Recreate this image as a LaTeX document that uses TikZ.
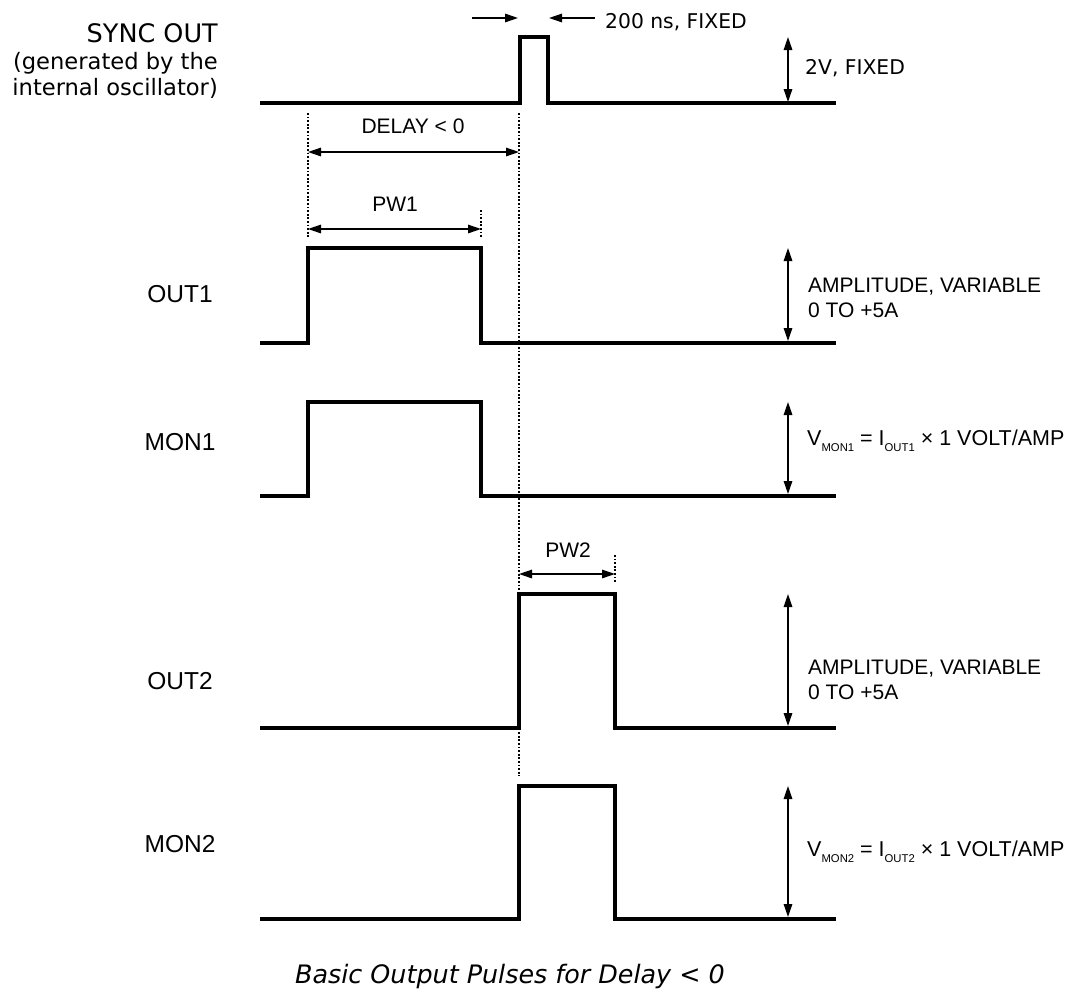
\documentclass[tikz,border=0pt]{standalone}
\usepackage{fontspec}
\setmainfont{Liberation Sans}
\newfontfamily\dvfont{DejaVu Sans}
\usetikzlibrary{arrows.meta}
\newcommand\lowsub[1]{\raisebox{-6pt}{\fontsize{11.3}{11.3}\selectfont #1}}
\begin{document}
\begin{tikzpicture}[x=1pt,y=-1pt,
  trace/.style={line width=4pt,line join=miter},
  dimarrow/.style={line width=1.4pt,{Triangle[length=13pt,width=8.5pt]}-{Triangle[length=13pt,width=8.5pt]}},
  onearrow/.style={line width=1.4pt,-{Triangle[length=13pt,width=8.5pt]}},
  guide/.style={line width=1.7pt,dash pattern=on 1.7pt off 1.9pt},
  siglabel/.style={font=\fontsize{24.5}{28}\selectfont,inner sep=0,anchor=base},
  synclabel/.style={font=\dvfont\fontsize{22.6}{26}\selectfont,inner sep=0,anchor=base east},
  note/.style={font=\fontsize{21}{25}\selectfont,inner sep=0,anchor=base west},
  cnote/.style={font=\fontsize{21}{25}\selectfont,inner sep=0,anchor=base},
  dvnote/.style={font=\dvfont\fontsize{20.3}{24}\selectfont,inner sep=0,anchor=base west},
  caption/.style={font=\dvfont\itshape\fontsize{25.4}{30}\selectfont,inner sep=0,anchor=base}
]
\useasboundingbox (0,0) rectangle (1073,991);

% ---------- signal labels ----------
\node[synclabel,font=\dvfont\fontsize{25.5}{28}\selectfont] (s1) at (218,42) {SYNC OUT};
\node[synclabel] (s2) at (218,69) {(generated by the};
\node[synclabel] (s3) at (218,95) {internal oscillator)};
\node[siglabel] (lout1) at (180,302) {OUT1};
\node[siglabel] (lmon1) at (180,450) {MON1};
\node[siglabel] (lout2) at (180,689) {OUT2};
\node[siglabel] (lmon2) at (180,852) {MON2};

% ---------- traces ----------
\draw[trace] (260,103) -- (520,103) -- (520,37) -- (548,37) -- (548,103) -- (836,103);
\draw[trace] (260,343) -- (308,343) -- (308,248) -- (481,248) -- (481,343) -- (836,343);
\draw[trace] (260,496) -- (308,496) -- (308,402) -- (481,402) -- (481,496) -- (836,496);
\draw[trace] (260,728) -- (519,728) -- (519,594) -- (615,594) -- (615,728) -- (836,728);
\draw[trace] (260,919) -- (519,919) -- (519,786) -- (615,786) -- (615,919) -- (836,919);

% ---------- guide (dotted) lines ----------
\coordinate (g1t) at (308,113); \coordinate (g1b) at (308,237);
\coordinate (g2t) at (519,113); \coordinate (g2b) at (519,776);
\coordinate (g3t) at (481,210); \coordinate (g3b) at (481,237);
\coordinate (g4t) at (615,555); \coordinate (g4b) at (615,583);
\draw[guide] (g1t) -- (g1b);
\draw[guide] (g2t) -- (g2b);
\draw[guide] (g3t) -- (g3b);
\draw[guide] (g4t) -- (g4b);

% ---------- horizontal dimensions ----------
\coordinate (dl) at (308,152); \coordinate (dr) at (519,152);
\draw[dimarrow] (dl) -- (dr);
\node[cnote] (tdelay) at (413,133) {DELAY < 0};

\coordinate (p1l) at (308,229); \coordinate (p1r) at (481,229);
\draw[dimarrow] (p1l) -- (p1r);
\node[cnote] (tpw1) at (395,211) {PW1};

\coordinate (p2l) at (519,574); \coordinate (p2r) at (615,574);
\draw[dimarrow] (p2l) -- (p2r);
\node[cnote] (tpw2) at (568,557) {PW2};

\coordinate (wa1) at (472,18); \coordinate (wa2) at (518,18);
\coordinate (wb1) at (595,18); \coordinate (wb2) at (549,18);
\draw[onearrow] (wa1) -- (wa2);
\draw[onearrow] (wb1) -- (wb2);
\node[dvnote] (t200) at (605,28) {200 ns, FIXED};

% ---------- vertical amplitudes ----------
\coordinate (a0t) at (788,37);  \coordinate (a0b) at (788,102);
\coordinate (a1t) at (788,248); \coordinate (a1b) at (788,341);
\coordinate (a2t) at (788,402); \coordinate (a2b) at (788,494);
\coordinate (a3t) at (788,594); \coordinate (a3b) at (788,726);
\coordinate (a4t) at (788,786); \coordinate (a4b) at (788,917);
\draw[dimarrow] (a0t) -- (a0b);
\draw[dimarrow] (a1t) -- (a1b);
\draw[dimarrow] (a2t) -- (a2b);
\draw[dimarrow] (a3t) -- (a3b);
\draw[dimarrow] (a4t) -- (a4b);

\node[dvnote] (t2v) at (805,74) {2V, FIXED};
\node[note] (tamp1a) at (808,292) {AMPLITUDE, VARIABLE};
\node[note] (tamp1b) at (808,317) {0 TO +5A};
\node[note,font=\fontsize{21.5}{25}\selectfont] (tvmon1) at (807,445) {V\lowsub{MON1} = I\lowsub{OUT1} × 1 VOLT/AMP};
\node[note] (tamp2a) at (808,674) {AMPLITUDE, VARIABLE};
\node[note] (tamp2b) at (808,699) {0 TO +5A};
\node[note,font=\fontsize{21.5}{25}\selectfont] (tvmon2) at (807,856) {V\lowsub{MON2} = I\lowsub{OUT2} × 1 VOLT/AMP};

% ---------- caption ----------
\node[caption] (cap) at (510,983) {Basic Output Pulses for Delay < 0};
\end{tikzpicture}
\end{document}
